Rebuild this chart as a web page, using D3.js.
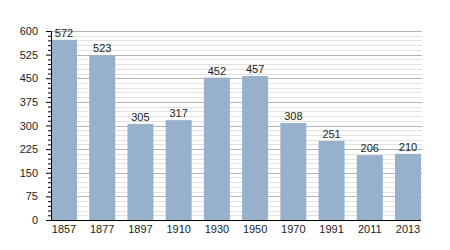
<!DOCTYPE html>
<html>
<head>
<meta charset="utf-8">
<script src="https://cdn.jsdelivr.net/npm/d3@7"></script>
<style>
  body { margin: 0; background: #fff; }
  text { font-family: "Liberation Sans", Arial, sans-serif; font-size: 11px; fill: #222; }
</style>
</head>
<body>
<svg id="chart"></svg>
<script>
// population by census year
const years = ["1857", "1877", "1897", "1910", "1930", "1950", "1970", "1991", "2011", "2013"];
const population = [572, 523, 305, 317, 452, 457, 308, 251, 206, 210];
const majorTicks = [0, 75, 150, 225, 300, 375, 450, 525, 600];

const width = 450, height = 250;
const margin = {top: 31, right: 29, bottom: 30, left: 51};

const svg = d3.select("#chart")
    .attr("width", width)
    .attr("height", height);

const x = d3.scaleBand()
    .domain(years)
    .range([margin.left, width - margin.right])
    .paddingInner(0.32)
    .paddingOuter(0);

const y = d3.scaleLinear()
    .domain([0, 600])
    .range([height - margin.bottom, margin.top]);

// minor grid every 15
const minor = d3.range(15, 601, 15).filter(v => v % 75 !== 0);
svg.append("g")
  .selectAll("line")
  .data(minor)
  .join("line")
    .attr("x1", margin.left)
    .attr("x2", width - margin.right + 1)
    .attr("y1", d => Math.round(y(d)) + 0.5)
    .attr("y2", d => Math.round(y(d)) + 0.5)
    .attr("stroke", "#e2e2e2");

// major grid
svg.append("g")
  .selectAll("line")
  .data(majorTicks.filter(d => d > 0))
  .join("line")
    .attr("x1", margin.left)
    .attr("x2", width - margin.right + 1)
    .attr("y1", d => Math.round(y(d)) + 0.5)
    .attr("y2", d => Math.round(y(d)) + 0.5)
    .attr("stroke", "#b4b4b4");

// bars
svg.append("g")
  .selectAll("rect")
  .data(population)
  .join("rect")
    .attr("x", (d, i) => x(years[i]))
    .attr("y", d => y(d))
    .attr("width", x.bandwidth())
    .attr("height", d => y(0) - y(d))
    .attr("fill", "#97b1cc");

// value labels
svg.append("g")
  .selectAll("text")
  .data(population)
  .join("text")
    .attr("x", (d, i) => x(years[i]) + x.bandwidth() / 2)
    .attr("y", d => y(d) - 3)
    .attr("text-anchor", "middle")
    .text(d => d);

// y axis with minor ticks
const yAxis = svg.append("g")
    .attr("transform", `translate(${margin.left},0)`);
yAxis.append("g")
    .call(d3.axisLeft(y).tickValues(minor).tickSize(3).tickFormat(""))
    .call(g => g.select(".domain").remove());
yAxis.append("g")
    .call(d3.axisLeft(y).tickValues(majorTicks).tickSize(5).tickPadding(8))
    .call(g => g.selectAll("text").style("font-size", "11px").attr("fill", "#222"));
yAxis.selectAll("line, path").attr("stroke", "#000");

// x axis
svg.append("g")
    .attr("transform", `translate(0,${y(0)})`)
    .call(d3.axisBottom(x).tickSize(0).tickPadding(5))
    .call(g => g.select(".domain").attr("d", `M${margin.left},0.5H${width - margin.right}`).attr("stroke", "#000"))
    .call(g => g.selectAll("text").style("font-size", "11px").attr("fill", "#222"));
</script>
</body>
</html>
